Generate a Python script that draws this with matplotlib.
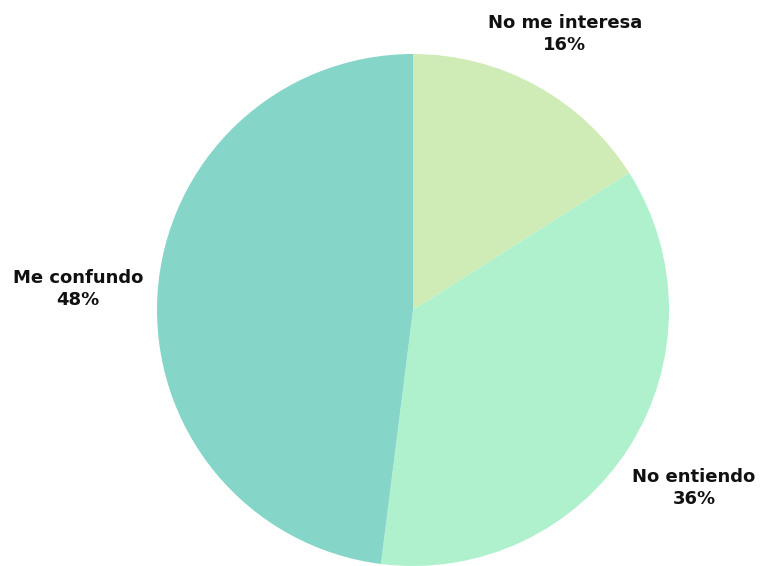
import numpy as np
import matplotlib.pyplot as plt

# Respuestas de la encuesta
categorias = ['No me interesa', 'No entiendo', 'Me confundo']
porcentajes = [16, 36, 48]
colores = ['#cfecb6', '#aef1cc', '#85d5c9']

fig = plt.figure(figsize=(7.62, 5.66), dpi=100)
ax = fig.add_axes([0.542 - 0.672 / 2, 0.4523 - 0.9046 / 2, 0.672, 0.9046])

wedges, _ = ax.pie(porcentajes, colors=colores, startangle=90, counterclock=False,
                   radius=1.0, wedgeprops=dict(linewidth=0))
ax.set_aspect('equal')
ax.set_xlim(-1, 1)
ax.set_ylim(-1, 1)

# Etiquetas fuera de cada porción
distancias = [1.23, 1.30, 1.31]
for w, cat, pct, d in zip(wedges, categorias, porcentajes, distancias):
    ang = np.deg2rad((w.theta1 + w.theta2) / 2)
    ax.text(d * np.cos(ang), d * np.sin(ang), f'{cat}\n{pct}%',
            ha='center', va='center', fontsize=13, fontweight='bold',
            family='DejaVu Sans', color='#111111', linespacing=1.3,
            clip_on=False)

fig.savefig('out.png', dpi=100)
